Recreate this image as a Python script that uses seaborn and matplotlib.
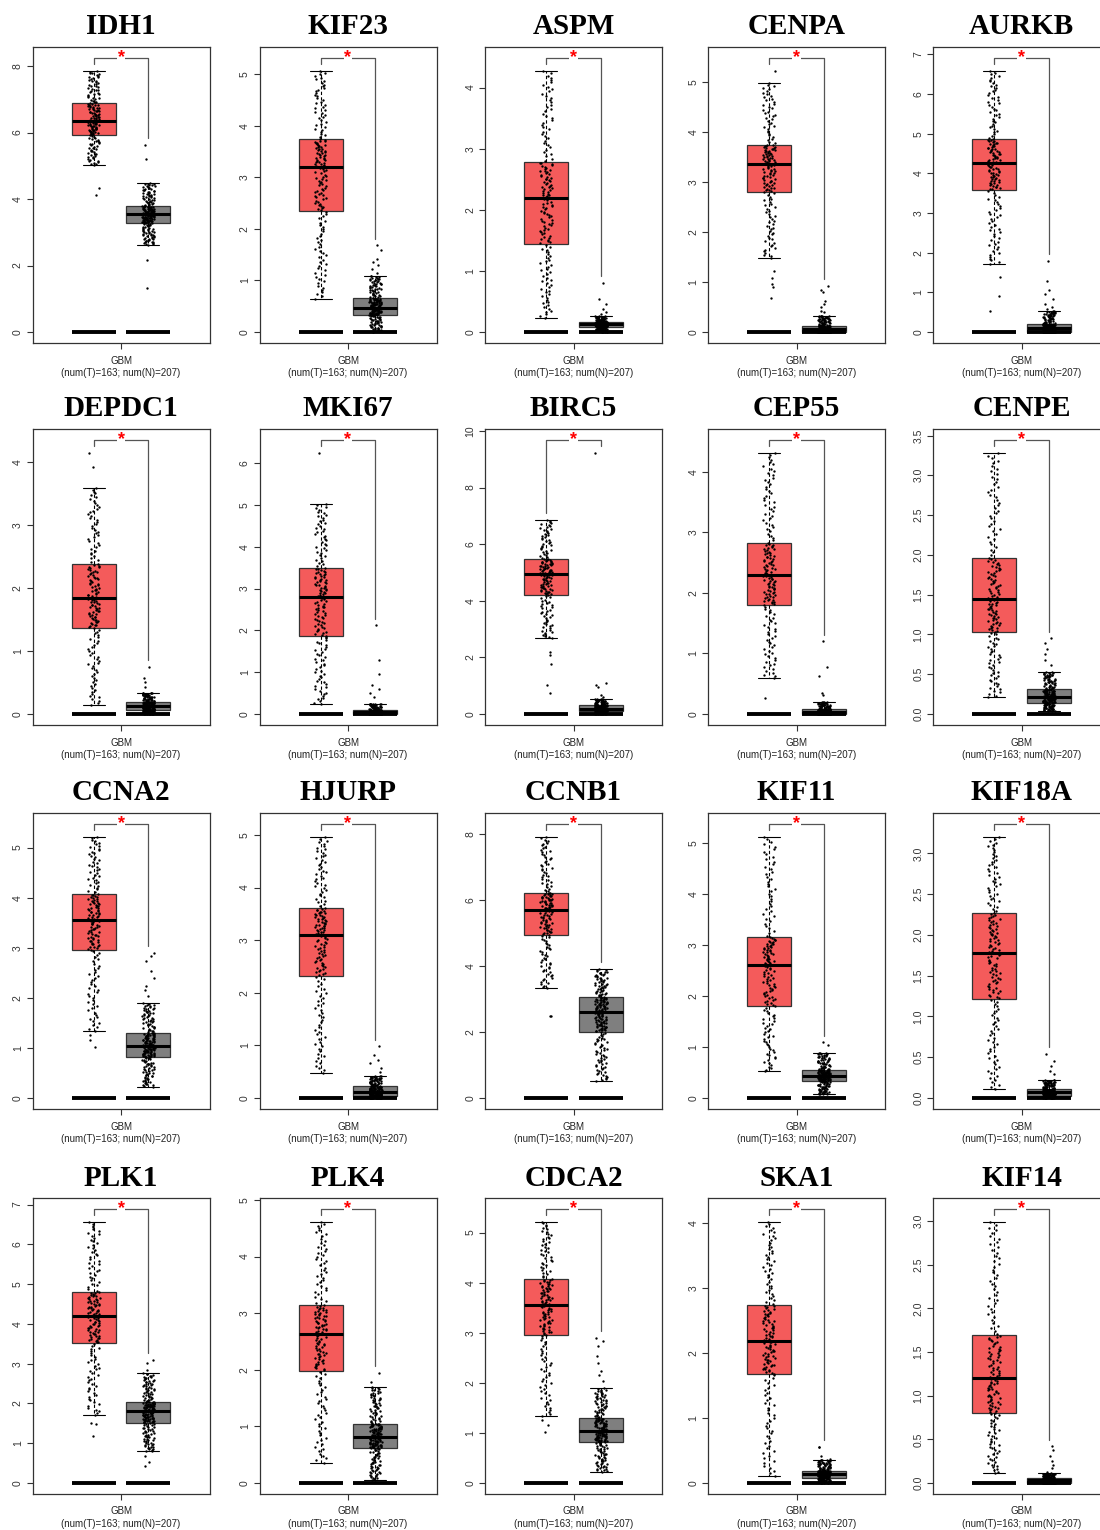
# GEPIA style expression boxplots: tumor (T) vs normal (N) in GBM
# one panel per gene, 4 rows x 5 columns

import numpy as np
import pandas as pd
import matplotlib
matplotlib.use("Agg")
import matplotlib.pyplot as plt
import seaborn as sns


genes = [
    "IDH1", "KIF23", "ASPM", "CENPA", "AURKB",
    "DEPDC1", "MKI67", "BIRC5", "CEP55", "CENPE",
    "CCNA2", "HJURP", "CCNB1", "KIF11", "KIF18A",
    "PLK1", "PLK4", "CDCA2", "SKA1", "KIF14",
]

n_tumor = 163
n_normal = 207
cancer = "GBM"

# (lower whisker, Q1, median, Q3, upper whisker)
tumor_stats = [
    (5.02, 5.94, 6.36, 6.88, 7.85),
    (0.65, 2.35, 3.20, 3.73, 5.06),
    (0.23, 1.44, 2.19, 2.78, 4.27),
    (1.48, 2.81, 3.36, 3.75, 4.99),
    (1.71, 3.59, 4.26, 4.87, 6.58),
    (0.14, 1.37, 1.84, 2.38, 3.59),
    (0.23, 1.86, 2.79, 3.49, 5.03),
    (2.67, 4.21, 4.93, 5.48, 6.85),
    (0.59, 1.81, 2.29, 2.82, 4.31),
    (0.21, 1.03, 1.45, 1.95, 3.28),
    (1.34, 2.96, 3.55, 4.06, 5.21),
    (0.48, 2.33, 3.10, 3.60, 4.96),
    (3.32, 4.95, 5.71, 6.22, 7.91),
    (0.52, 1.81, 2.61, 3.15, 5.11),
    (0.11, 1.22, 1.78, 2.26, 3.20),
    (1.71, 3.53, 4.20, 4.80, 6.56),
    (0.36, 1.99, 2.64, 3.13, 4.61),
    (1.34, 2.96, 3.55, 4.06, 5.21),
    (0.11, 1.68, 2.19, 2.74, 4.02),
    (0.11, 0.80, 1.20, 1.69, 2.99),
]

normal_stats = [
    (2.63, 3.29, 3.55, 3.78, 4.48),
    (0.00, 0.33, 0.47, 0.65, 1.09),
    (0.00, 0.08, 0.125, 0.16, 0.26),
    (0.00, 0.00, 0.07, 0.13, 0.33),
    (0.00, 0.00, 0.10, 0.21, 0.53),
    (0.00, 0.07, 0.13, 0.19, 0.34),
    (0.00, 0.00, 0.05, 0.10, 0.25),
    (0.00, 0.11, 0.19, 0.31, 0.53),
    (0.00, 0.00, 0.04, 0.08, 0.20),
    (0.04, 0.14, 0.22, 0.31, 0.53),
    (0.23, 0.82, 1.04, 1.30, 1.89),
    (0.00, 0.04, 0.11, 0.22, 0.42),
    (0.53, 2.02, 2.60, 3.05, 3.90),
    (0.07, 0.33, 0.44, 0.55, 0.89),
    (0.00, 0.03, 0.07, 0.11, 0.22),
    (0.80, 1.52, 1.80, 2.04, 2.76),
    (0.05, 0.61, 0.82, 1.05, 1.70),
    (0.23, 0.82, 1.04, 1.30, 1.89),
    (0.00, 0.08, 0.14, 0.19, 0.36),
    (0.00, 0.00, 0.03, 0.06, 0.11),
]

tumor_outliers = [
    [4.34, 4.12], [], [], [5.23, 1.23, 1.09, 0.97, 0.90, 0.69], [1.39, 0.91, 0.52],
    [4.14, 3.92], [6.24], [2.20, 2.08, 1.76, 1.02, 0.73], [0.26], [],
    [1.26, 1.16, 1.02], [], [2.50, 2.48], [], [],
    [1.51, 1.49, 1.17], [], [1.26, 1.16, 1.02], [], [],
]

normal_outliers = [
    [5.62, 5.20, 2.17, 1.31],
    [1.68, 1.60, 1.42, 1.35, 1.30, 1.22, 1.15],
    [0.81, 0.54, 0.46, 0.38, 0.33, 0.30],
    [0.92, 0.85, 0.80, 0.63, 0.57, 0.50, 0.43, 0.40],
    [1.79, 1.28, 1.07, 0.97, 0.84, 0.71, 0.63, 0.58],
    [0.75, 0.57, 0.51, 0.43],
    [2.12, 1.29, 0.95, 0.69, 0.61, 0.50, 0.41],
    [9.22, 1.10, 1.02, 0.94, 0.67, 0.61],
    [1.20, 0.78, 0.63, 0.34, 0.31],
    [0.95, 0.89, 0.82, 0.76, 0.68, 0.62],
    [2.89, 2.83, 2.73, 2.53, 2.39, 2.23, 2.16, 2.03],
    [0.98, 0.82, 0.73, 0.67, 0.57, 0.50],
    [],
    [1.09, 1.04],
    [0.54, 0.46, 0.39, 0.33, 0.29],
    [3.10, 3.02, 2.85, 0.67, 0.54, 0.44],
    [1.94, 1.79],
    [2.89, 2.83, 2.73, 2.53, 2.39, 2.23, 2.16, 2.03],
    [0.56, 0.55, 0.41, 0.37],
    [0.42, 0.38, 0.31, 0.25, 0.21, 0.17, 0.13],
]

ytick_step = [2, 1, 1, 1, 1, 1, 1, 2, 1, 0.5, 1, 1, 2, 1, 0.5, 1, 1, 1, 1, 0.5]

zero_level = 0.0

TUMOR_COLOR = "#F45B5B"
NORMAL_COLOR = "#7F7F7F"


def group_values(stats, outliers, n):
    # spread the non-outlier samples over the read quartiles
    core_n = n - len(outliers)
    core = np.interp(np.linspace(0, 1, core_n), [0, 0.25, 0.5, 0.75, 1], stats)
    return core, np.array(outliers, dtype=float)


def plot_panel(ax, i):
    t_core, t_out = group_values(tumor_stats[i], tumor_outliers[i], n_tumor)
    n_core, n_out = group_values(normal_stats[i], normal_outliers[i], n_normal)

    core_df = pd.DataFrame({
        "group": ["T"] * len(t_core) + ["N"] * len(n_core),
        "value": np.concatenate([t_core, n_core]),
    })
    all_df = pd.DataFrame({
        "group": ["T"] * n_tumor + ["N"] * n_normal,
        "value": np.concatenate([t_core, t_out, n_core, n_out]),
    })

    sns.boxplot(
        data=core_df, x="group", y="value", hue="group", order=["T", "N"],
        palette={"T": TUMOR_COLOR, "N": NORMAL_COLOR}, saturation=1,
        width=0.8, whis=(0, 100), showfliers=False, legend=False,
        linecolor="#333333", linewidth=0.9, ax=ax,
        medianprops={"color": "black", "linewidth": 2.2},
        whiskerprops={"color": "black", "linewidth": 0.8, "linestyle": (0, (3, 2))},
        capprops={"color": "black", "linewidth": 0.8},
    )

    # thick bars at zero under each box
    for pos in (0, 1):
        ax.hlines(zero_level, pos - 0.4, pos + 0.4, color="black", lw=2.8, zorder=3)

    sns.stripplot(
        data=all_df, x="group", y="value", order=["T", "N"], color="black",
        size=1.7, jitter=0.11, linewidth=0, ax=ax, zorder=4,
    )

    # significance bracket
    t_max = max(t_core.max(), t_out.max() if len(t_out) else -np.inf)
    n_max = max(n_core.max(), n_out.max() if len(n_out) else -np.inf)
    y_b = 1.05 * max(t_max, n_max)
    gap = 0.025 * y_b
    ax.plot([0, 0, 1, 1], [t_max + gap, y_b, y_b, n_max + gap],
            color="#555555", lw=0.9, zorder=2)
    ax.text(0.5, y_b, "*", color="red", ha="center", va="center",
            fontsize=13, fontweight="bold", zorder=5,
            bbox=dict(facecolor="white", edgecolor="none", pad=0.5))

    ax.set_ylim(-0.04 * y_b, 1.04 * y_b)
    ax.set_xlim(-1.11, 2.11)

    step = ytick_step[i]
    ticks = np.arange(0, 1.04 * y_b + 1e-9, step)
    ax.set_yticks(ticks)
    fmt = "{:.1f}" if step < 1 else "{:.0f}"
    ax.set_yticklabels([fmt.format(t) for t in ticks], rotation=90, va="center",
                       fontsize=7.5, color="#333333")

    ax.set_xticks([0.5])
    ax.set_xticklabels([f"{cancer}\n(num(T)={n_tumor}; num(N)={n_normal})"],
                       fontsize=7, color="#222222", linespacing=1.3)
    ax.tick_params(axis="both", direction="out", length=4, width=0.8, color="#333333")
    ax.tick_params(axis="y", pad=3)
    ax.tick_params(axis="x", pad=5)
    ax.set_xlabel("")
    ax.set_ylabel("")

    for side in ["left", "right", "top", "bottom"]:
        ax.spines[side].set_visible(True)
        ax.spines[side].set_color("#333333")
        ax.spines[side].set_linewidth(0.9)

    ax.set_title(genes[i], fontfamily="Liberation Serif", fontweight="bold",
                 fontsize=21, pad=9, color="black")


if __name__ == "__main__":
    sns.set_style("ticks")
    plt.rcParams["font.family"] = ["Liberation Sans", "DejaVu Sans"]
    np.random.seed(3)

    W, H = 1100, 1530
    fig = plt.figure(figsize=(W / 100, H / 100), dpi=100)

    col_left = [32.5, 259.5, 485, 708, 933]
    row_top = [47, 429, 813, 1198]
    panel_w, panel_h = 177, 296

    for i in range(len(genes)):
        r, c = divmod(i, 5)
        ax = fig.add_axes([col_left[c] / W, 1 - (row_top[r] + panel_h) / H,
                           panel_w / W, panel_h / H])
        plot_panel(ax, i)

    fig.savefig("out.png", dpi=100)
